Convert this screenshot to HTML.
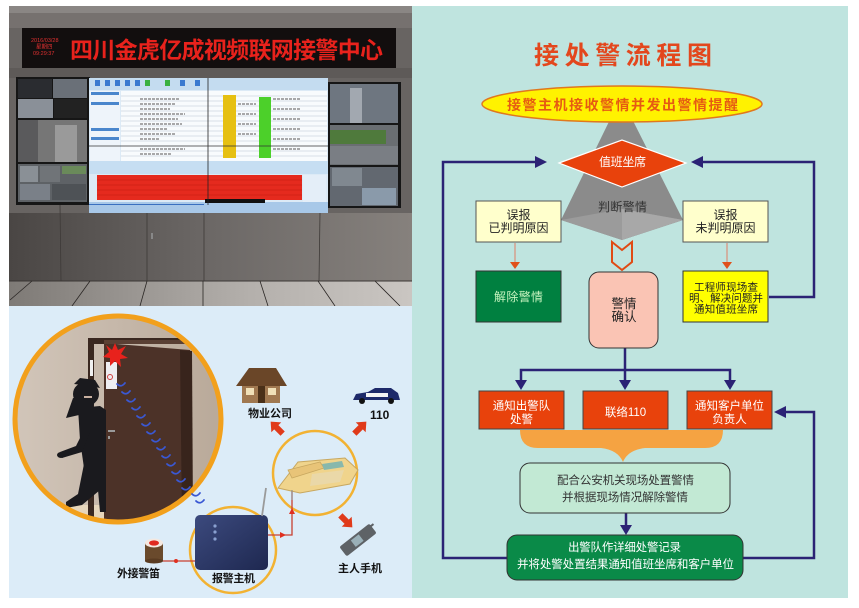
<!DOCTYPE html>
<html><head><meta charset="utf-8">
<style>
html,body{margin:0;padding:0;background:#fff;}
svg{display:block;}
text{font-family:"Liberation Sans","Noto Sans CJK SC",sans-serif;}
</style></head><body>
<svg width="859" height="608" viewBox="0 0 859 608" xmlns="http://www.w3.org/2000/svg">
<defs>
<clipPath id="photo"><rect x="9" y="6" width="403" height="300"/></clipPath>
<clipPath id="circ"><circle cx="118" cy="419" r="102"/></clipPath>
<linearGradient id="wallg" x1="0" y1="0" x2="1" y2="0">
<stop offset="0" stop-color="#4a4644"/><stop offset="0.5" stop-color="#6c6866"/><stop offset="1" stop-color="#86817d"/>
</linearGradient>
<linearGradient id="floorg" x1="0" y1="0" x2="1" y2="0">
<stop offset="0" stop-color="#7e7a76"/><stop offset="0.6" stop-color="#b4b0ac"/><stop offset="1" stop-color="#cac6c2"/>
</linearGradient>
<linearGradient id="hostg" x1="0" y1="0" x2="1" y2="1">
<stop offset="0" stop-color="#3c4a7e"/><stop offset="1" stop-color="#1e2850"/>
</linearGradient>
<linearGradient id="cwall" x1="0" y1="0" x2="1" y2="0">
<stop offset="0" stop-color="#d2c6ba"/><stop offset="1" stop-color="#b8a898"/>
</linearGradient>
</defs>

<!-- ===== PHOTO ===== -->
<g clip-path="url(#photo)">
<rect x="9" y="6" width="403" height="300" fill="#686462"/>
<rect x="9" y="6" width="403" height="7" fill="#8a8684"/>
<rect x="9" y="13" width="403" height="15" fill="#76716f"/>
<rect x="22" y="28" width="374" height="40" fill="#120e0e"/>
<text x="31" y="42" font-size="5.5" fill="#e03030">2016/03/28</text>
<text x="36" y="48.5" font-size="5.5" fill="#e03030">星期四</text>
<text x="33" y="55" font-size="5.5" fill="#e03030">09:29:37</text>
<text x="70" y="58" font-size="23" font-weight="bold" fill="#e8221c" textLength="313" lengthAdjust="spacing">四川金虎亿成视频联网接警中心</text>
<rect x="9" y="68" width="403" height="10" fill="#5e5a58"/>

<!-- left monitors -->
<rect x="16" y="77" width="74" height="128" fill="#161616"/>
<rect x="18" y="79" width="34" height="19" fill="#2a2c30"/>
<rect x="53" y="79" width="34" height="19" fill="#6a7078"/>
<rect x="18" y="99" width="35" height="19" fill="#8a9098"/>
<rect x="54" y="99" width="33" height="19" fill="#222"/>
<rect x="18" y="120" width="69" height="42" fill="#767676"/>
<rect x="18" y="120" width="20" height="42" fill="#5a5a5c"/>
<rect x="55" y="125" width="22" height="37" fill="#9a9a9a"/>
<rect x="18" y="164" width="69" height="38" fill="#5e6266"/>
<rect x="20" y="166" width="18" height="16" fill="#8a9096"/>
<rect x="40" y="166" width="20" height="16" fill="#707478"/>
<rect x="62" y="166" width="24" height="8" fill="#6a8a5a"/>
<rect x="20" y="184" width="30" height="16" fill="#7a8088"/>
<rect x="52" y="184" width="34" height="16" fill="#4e5256"/>

<!-- right monitors -->
<rect x="328" y="82" width="73" height="126" fill="#161616"/>
<rect x="330" y="84" width="68" height="39" fill="#6e7680"/>
<rect x="350" y="88" width="12" height="35" fill="#a2a8b0"/>
<rect x="330" y="125" width="68" height="40" fill="#6a6e72"/>
<rect x="330" y="130" width="56" height="14" fill="#4f7a3c"/>
<rect x="330" y="146" width="68" height="18" fill="#7a7e84"/>
<rect x="330" y="167" width="68" height="39" fill="#626870"/>
<rect x="332" y="168" width="30" height="18" fill="#808890"/>
<rect x="362" y="188" width="34" height="17" fill="#8a9aaa"/>

<!-- center screen -->
<rect x="89" y="78" width="239" height="135" fill="#dceaf6"/>
<rect x="89" y="78" width="239" height="12" fill="#c4dcf0"/>
<g fill="#3a7ad0"><rect x="95" y="80" width="5" height="6"/><rect x="105" y="80" width="5" height="6"/><rect x="115" y="80" width="5" height="6"/><rect x="125" y="80" width="5" height="6"/><rect x="135" y="80" width="5" height="6"/><rect x="180" y="80" width="5" height="6"/><rect x="195" y="80" width="5" height="6"/></g>
<g fill="#3ab040"><rect x="145" y="80" width="5" height="6"/><rect x="165" y="80" width="5" height="6"/></g>
<rect x="90" y="91" width="30" height="75" fill="#eef4fa"/>
<g fill="#4a86cc"><rect x="91" y="92" width="28" height="3"/><rect x="91" y="102" width="28" height="3"/><rect x="91" y="128" width="28" height="3"/><rect x="91" y="137" width="28" height="3"/></g>
<rect x="121" y="91" width="206" height="70" fill="#f8fbfd"/>
<g stroke="#b8c4d0" stroke-width="0.6">
<line x1="121" y1="96" x2="327" y2="96"/><line x1="121" y1="101" x2="327" y2="101"/><line x1="121" y1="106" x2="327" y2="106"/><line x1="121" y1="111" x2="327" y2="111"/><line x1="121" y1="116" x2="327" y2="116"/><line x1="121" y1="121" x2="327" y2="121"/><line x1="121" y1="126" x2="327" y2="126"/><line x1="121" y1="131" x2="327" y2="131"/><line x1="121" y1="136" x2="327" y2="136"/><line x1="121" y1="141" x2="327" y2="141"/><line x1="121" y1="151" x2="327" y2="151"/><line x1="121" y1="156" x2="327" y2="156"/>
</g>
<g stroke="#777" stroke-width="1.2" stroke-dasharray="3 1">
<line x1="140" y1="99" x2="180" y2="99"/><line x1="140" y1="104" x2="175" y2="104"/><line x1="140" y1="109" x2="170" y2="109"/><line x1="140" y1="114" x2="185" y2="114"/><line x1="140" y1="119" x2="178" y2="119"/><line x1="140" y1="124" x2="182" y2="124"/><line x1="140" y1="129" x2="168" y2="129"/><line x1="140" y1="134" x2="176" y2="134"/><line x1="140" y1="139" x2="160" y2="139"/><line x1="140" y1="149" x2="185" y2="149"/><line x1="140" y1="154" x2="172" y2="154"/>
<line x1="238" y1="104" x2="256" y2="104"/><line x1="238" y1="114" x2="256" y2="114"/><line x1="238" y1="124" x2="256" y2="124"/><line x1="238" y1="134" x2="256" y2="134"/>
<line x1="273" y1="99" x2="300" y2="99"/><line x1="273" y1="109" x2="300" y2="109"/><line x1="273" y1="119" x2="300" y2="119"/><line x1="273" y1="129" x2="300" y2="129"/><line x1="273" y1="139" x2="300" y2="139"/><line x1="273" y1="149" x2="300" y2="149"/>
</g>
<rect x="223" y="95" width="13" height="63" fill="#e6c012"/>
<rect x="259" y="97" width="12" height="61" fill="#4cd02a"/>
<rect x="89" y="161" width="239" height="13" fill="#c6def2"/>
<rect x="97" y="175" width="205" height="25" fill="#e52a1e"/>
<g stroke="#c01a10" stroke-width="0.6"><line x1="97" y1="180" x2="302" y2="180"/><line x1="97" y1="185" x2="302" y2="185"/><line x1="97" y1="190" x2="302" y2="190"/><line x1="97" y1="195" x2="302" y2="195"/></g>
<rect x="303" y="175" width="23" height="30" fill="#e4eef8"/>
<rect x="89" y="202" width="239" height="11" fill="#a8c8e8"/>
<rect x="89" y="204" width="115" height="3" fill="#3a70c0"/>
<rect x="205" y="199" width="60" height="4" fill="#101010"/>
<line x1="208" y1="78" x2="208" y2="213" stroke="#222" stroke-width="0.8"/>
<line x1="89" y1="146" x2="328" y2="146" stroke="#333" stroke-width="0.7"/>

<!-- wall panels and floor -->
<rect x="9" y="213" width="403" height="69" fill="url(#wallg)"/>
<rect x="89" y="205" width="239" height="8" fill="#a8c8e8"/>
<g stroke="#3e3a38" stroke-width="0.8"><line x1="60" y1="205" x2="61" y2="281"/><line x1="147" y1="213" x2="147" y2="281"/><line x1="204" y1="213" x2="204" y2="281"/><line x1="320" y1="213" x2="319" y2="281"/></g>
<rect x="151" y="233" width="2" height="6" fill="#888"/>
<rect x="9" y="281" width="403" height="25" fill="url(#floorg)"/>
<line x1="9" y1="281" x2="412" y2="281" stroke="#3a3634" stroke-width="1"/>
<g stroke="#2a2624" stroke-width="0.8"><line x1="10" y1="300" x2="32" y2="281"/><line x1="72" y1="306" x2="90" y2="281"/><line x1="140" y1="306" x2="147" y2="281"/><line x1="203" y1="306" x2="203" y2="281"/><line x1="268" y1="306" x2="260" y2="281"/><line x1="335" y1="306" x2="318" y2="281"/><line x1="400" y1="306" x2="375" y2="281"/></g>
</g>

<!-- ===== ILLUSTRATION ===== -->
<rect x="9" y="306" width="403" height="292" fill="#dcecf8"/>
<g clip-path="url(#circ)">
<rect x="10" y="310" width="220" height="220" fill="url(#cwall)"/>
<rect x="10" y="505" width="220" height="25" fill="#e6d6bc"/>
<rect x="88" y="338" width="104" height="6" fill="#3a2820"/>
<rect x="88" y="338" width="6" height="185" fill="#3a2820"/>
<rect x="90" y="360" width="3" height="16" fill="#f0f0f0"/>
<polygon points="104,343 190,350 192,520 104,520" fill="#4c3228"/>
<polygon points="180,350 192,351 193,520 182,520" fill="#38241c"/>
<rect x="104" y="340" width="86" height="4" fill="#5a4034"/>
<rect x="106" y="362" width="11" height="27" fill="#eeeef2"/>
<circle cx="110" cy="377" r="2.5" fill="none" stroke="#d04040" stroke-width="1"/>
<polygon points="115,343 118,350 126,346 121,354 128,358 120,359 121,367 115,361 110,366 110,358 103,357 109,352 106,345 112,350" fill="#e8221c"/>
<rect x="108" y="430" width="7" height="2" fill="#9a9a9a"/>
<rect x="108" y="436" width="2" height="3" fill="#9a9a9a"/>
<!-- thief -->
<g fill="#1a1a1e">
<ellipse cx="86" cy="394" rx="13" ry="12"/>
<polygon points="74,384 80,378 95,380 100,388 90,386"/>
<polygon points="73,398 95,400 92,412 66,418"/>
<polygon points="78,408 100,406 106,410 106,470 84,468 80,440"/>
<polygon points="84,430 90,432 82,452 62,458 60,452 76,446"/>
<ellipse cx="61" cy="455" rx="4" ry="3"/>
<polygon points="84,464 104,464 100,490 82,505 66,508 66,502 78,494"/>
<polygon points="96,468 106,468 106,512 100,512 98,490"/>
</g>
<rect x="84" y="396" width="8" height="2" fill="#c8b0a0"/>
</g>
<circle cx="118" cy="419" r="103" fill="none" stroke="#f2a01c" stroke-width="5"/>
<!-- waves -->
<g fill="none" stroke="#3a58d4" stroke-width="1.8" stroke-linecap="round">
<path d="M117,384 q4,4 8,-1"/><path d="M122,392 q4,4 8,-1"/><path d="M127,400 q4,4 8,-1"/><path d="M132,408 q4,4 8,-1"/><path d="M137,416 q4,4 8,-1"/><path d="M142,424 q4,4 8,-1"/><path d="M147,432 q4,4 8,-1"/><path d="M152,440 q4,4 8,-1"/><path d="M157,448 q4,4 8,-1"/><path d="M162,456 q4,4 8,-1"/><path d="M167,464 q4,4 8,-1"/><path d="M172,472 q4,4 8,-1"/><path d="M177,480 q4,4 8,-1"/><path d="M182,488 q4,4 8,-1"/><path d="M192,494 q4,4 8,-1"/><path d="M196,501 q4,4 8,-1"/>
</g>

<!-- rings -->
<circle cx="315" cy="473" r="42" fill="none" stroke="#f2b232" stroke-width="2.5"/>
<circle cx="233" cy="550" r="43" fill="none" stroke="#f2b232" stroke-width="2.5"/>

<!-- host -->
<rect x="195" y="515" width="73" height="55" rx="5" fill="url(#hostg)"/>
<g fill="#8aa0d0"><circle cx="215" cy="526" r="1.6"/><circle cx="215" cy="532" r="1.6"/><circle cx="215" cy="539" r="1.6"/></g>
<line x1="262" y1="516" x2="266" y2="488" stroke="#9a9a9a" stroke-width="1.8"/>

<!-- connector lines -->
<polyline points="268,535 292,535 292,490" fill="none" stroke="#c84030" stroke-width="1.3"/>
<polygon points="280,532 286,535 280,538" fill="#e03020"/>
<polygon points="289,514 292,508 295,514" fill="#e03020"/>
<line x1="163" y1="561" x2="195" y2="561" stroke="#c84030" stroke-width="1.3"/>
<circle cx="176" cy="561" r="2" fill="#e03020"/>

<!-- siren -->
<rect x="145" y="543" width="18" height="18" fill="#6a4a2c"/>
<ellipse cx="154" cy="561" rx="9" ry="2.5" fill="#5a3c22"/>
<ellipse cx="154" cy="543" rx="9" ry="4.5" fill="#f4e8e0"/>
<ellipse cx="154" cy="543" rx="5" ry="2.6" fill="#e02a20"/>

<!-- desk phone -->
<polygon points="278,488 298,462 345,458 358,470 350,484 300,493" fill="#f0d48c" stroke="#c8a860" stroke-width="1"/>
<polygon points="288,470 320,462 324,468 292,478" fill="#e8c478" stroke="#c8a860" stroke-width="0.8"/>
<polygon points="322,464 342,461 344,467 324,470" fill="#88b8ac"/>
<polygon points="312,474 344,470 340,482 310,486" fill="#ead8a8"/>
<line x1="292" y1="490" x2="292" y2="500" stroke="#888" stroke-width="1"/>

<!-- house -->
<rect x="242" y="382" width="38" height="21" fill="#a07850"/>
<polygon points="236,386 249,368 276,368 287,386" fill="#6a4628"/>
<rect x="246" y="388" width="8" height="7" fill="#f0e0b8"/>
<rect x="258" y="386" width="7" height="17" fill="#4a3018"/>
<rect x="268" y="388" width="8" height="7" fill="#f0e0b8"/>

<!-- car -->
<path d="M353,400 L356,394 L368,392 L375,388 L391,388 L398,393 L400,400 Z" fill="#1e2a6a"/>
<rect x="366" y="393" width="22" height="4" fill="#f4f4f4"/>
<circle cx="362" cy="401" r="3" fill="#111"/><circle cx="391" cy="401" r="3" fill="#111"/>

<!-- mobile -->
<g transform="translate(358,540) rotate(-38)">
<rect x="-19" y="-6" width="38" height="12" rx="2" fill="#5e6266"/>
<rect x="-6" y="-4" width="10" height="8" fill="#9ab0b8"/>
<rect x="17" y="-4" width="5" height="2" fill="#5e6266"/>
</g>

<!-- red block arrows -->
<g fill="#e03a1a">
<polygon transform="translate(277,428) rotate(-45)" points="0,-9 7,-1 3,-1 3,8 -3,8 -3,-1 -7,-1"/>
<polygon transform="translate(360,428) rotate(45)" points="0,-9 7,-1 3,-1 3,8 -3,8 -3,-1 -7,-1"/>
<polygon transform="translate(346,521) rotate(135)" points="0,-9 7,-1 3,-1 3,8 -3,8 -3,-1 -7,-1"/>
</g>

<!-- labels -->
<g font-size="11" font-weight="bold" fill="#111">
<text x="248" y="417" textLength="44" lengthAdjust="spacing">物业公司</text>
<text x="370" y="419" font-size="12">110</text>
<text x="338" y="572" textLength="44" lengthAdjust="spacing">主人手机</text>
<text x="117" y="577" textLength="43" lengthAdjust="spacing">外接警笛</text>
<text x="212" y="582" textLength="43" lengthAdjust="spacing">报警主机</text>
</g>

<!-- ===== FLOWCHART ===== -->
<rect x="412" y="6" width="436" height="592" fill="#bfe4df"/>
<text x="534" y="64" font-size="25" font-weight="bold" fill="#e3471d" textLength="178" lengthAdjust="spacing">接处警流程图</text>

<polygon points="621,97 683,220 622,240 561,220" fill="#8b8b8b"/>
<polygon points="561,220 622,209 683,220 622,240" fill="#9b9b9b"/>
<polygon points="622,209 683,220 622,240" fill="#a8a8a8"/>
<ellipse cx="622" cy="104" rx="140" ry="18" fill="#fff200" stroke="#e0781e" stroke-width="1.5"/>
<text x="507" y="110" font-size="14" font-weight="bold" fill="#e65a12" textLength="231" lengthAdjust="spacing">接警主机接收警情并发出警情提醒</text>

<polygon points="559,163 622,140 686,163 622,187" fill="#e8420c" stroke="#ffffff" stroke-width="1.2"/>
<text x="599" y="166" font-size="12" fill="#fff" textLength="47" lengthAdjust="spacing">值班坐席</text>
<text x="598" y="211" font-size="12" fill="#333" textLength="49" lengthAdjust="spacing">判断警情</text>

<!-- navy loops -->
<g fill="none" stroke="#2b2275" stroke-width="2.5">
<polyline points="507,558 443,558 443,162 537,162"/>
<polyline points="769,297 814,297 814,162 701,162"/>
<polyline points="743,558 814,558 814,412 784,412"/>
<polyline points="625,348 625,370"/>
<polyline points="521,382 521,370 730,370 730,382"/>
<polyline points="625,370 625,382"/>
<polyline points="626,513 626,527"/>
</g>
<g fill="#2b2275">
<polygon points="535,156 547,162 535,168"/>
<polygon points="703,156 691,162 703,168"/>
<polygon points="786,406 774,412 786,418"/>
<polygon points="515,380 521,390 527,380"/>
<polygon points="619,380 625,390 631,380"/>
<polygon points="724,380 730,390 736,380"/>
<polygon points="620,525 626,535 632,525"/>
</g>

<!-- top boxes -->
<rect x="476" y="201" width="85" height="41" fill="#ffffcc" stroke="#555" stroke-width="1"/>
<text x="518.5" y="219" font-size="12" fill="#222" text-anchor="middle">误报</text>
<text x="518.5" y="232" font-size="12" fill="#222" text-anchor="middle">已判明原因</text>
<rect x="683" y="201" width="85" height="41" fill="#ffffcc" stroke="#555" stroke-width="1"/>
<text x="725.5" y="219" font-size="12" fill="#222" text-anchor="middle">误报</text>
<text x="725.5" y="232" font-size="12" fill="#222" text-anchor="middle">未判明原因</text>

<g stroke="#d4a08e" stroke-width="1.5"><line x1="515" y1="243" x2="515" y2="263"/><line x1="727" y1="243" x2="727" y2="263"/></g>
<g fill="#e0501a"><polygon points="510,262 520,262 515,269"/><polygon points="722,262 732,262 727,269"/></g>

<polygon points="612,242 622,250 632,242 632,262 622,270 612,262" fill="#bfe4df" stroke="#e04a14" stroke-width="2"/>

<rect x="476" y="271" width="85" height="51" fill="#008040" stroke="#333" stroke-width="1"/>
<text x="494" y="301" font-size="12" fill="#c8f4c0" textLength="49" lengthAdjust="spacing">解除警情</text>

<rect x="683" y="271" width="85" height="51" fill="#ffff00" stroke="#333" stroke-width="1"/>
<text x="694" y="290.5" font-size="10.5" fill="#222" textLength="64" lengthAdjust="spacing">工程师现场查</text>
<text x="689" y="301.5" font-size="10.5" fill="#222" textLength="74" lengthAdjust="spacing">明、解决问题并</text>
<text x="694" y="312.5" font-size="10.5" fill="#222" textLength="64" lengthAdjust="spacing">通知值班坐席</text>

<rect x="589" y="272" width="69" height="76" rx="10" fill="#fac4b4" stroke="#333" stroke-width="1"/>
<text x="624" y="308" font-size="12.5" fill="#222" text-anchor="middle">警情</text>
<text x="624" y="321" font-size="12.5" fill="#222" text-anchor="middle">确认</text>

<!-- red boxes -->
<rect x="479" y="391" width="85" height="38" fill="#e8420c" stroke="#444" stroke-width="1"/>
<rect x="583" y="391" width="85" height="38" fill="#e8420c" stroke="#444" stroke-width="1"/>
<rect x="687" y="391" width="85" height="38" fill="#e8420c" stroke="#444" stroke-width="1"/>
<g font-size="11.5" fill="#fff" text-anchor="middle">
<text x="521.5" y="409.5">通知出警队</text>
<text x="521.5" y="423">处警</text>
<text x="625.5" y="416">联络110</text>
<text x="729.5" y="409.5">通知客户单位</text>
<text x="729.5" y="423">负责人</text>
</g>

<!-- brace -->
<path d="M520,430 L723,430 Q723,448 705,448 L645,448 Q628,450 623,462 Q618,450 601,448 L538,448 Q520,448 520,430 Z" fill="#f5a342"/>

<rect x="520" y="463" width="210" height="50" rx="10" fill="#c2e9d4" stroke="#333" stroke-width="1"/>
<text x="557" y="484" font-size="11.5" fill="#333" textLength="137" lengthAdjust="spacing">配合公安机关现场处置警情</text>
<text x="562" y="501" font-size="11.5" fill="#333" textLength="126" lengthAdjust="spacing">并根据现场情况解除警情</text>

<rect x="507" y="535" width="236" height="45" rx="10" fill="#0a8a48" stroke="#333" stroke-width="1"/>
<text x="568" y="551" font-size="11.5" fill="#fff" textLength="113" lengthAdjust="spacing">出警队作详细处警记录</text>
<text x="517" y="568" font-size="11.5" fill="#fff" textLength="217" lengthAdjust="spacing">并将处警处置结果通知值班坐席和客户单位</text>
</svg>
</body></html>
